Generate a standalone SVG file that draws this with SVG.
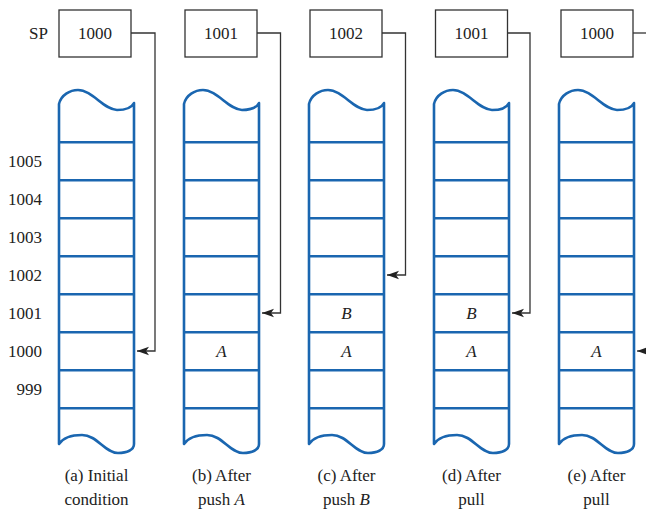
<svg xmlns="http://www.w3.org/2000/svg" width="646" height="509" viewBox="0 0 646 509">
<defs>
<path id="shape" d="M75,103 L75,444 C75,450 68,453 59,453 C46,453 38,435 23,435 C13,435 4,438 0,444 L0,104 C2,95 11,90 19,90 C33,90 45,110 58,110 C67,110 73,107 75,103 Z"/>
<g id="rows">
<line x1="0" y1="142.3" x2="75" y2="142.3"/>
<line x1="0" y1="180.3" x2="75" y2="180.3"/>
<line x1="0" y1="218.3" x2="75" y2="218.3"/>
<line x1="0" y1="256.3" x2="75" y2="256.3"/>
<line x1="0" y1="294.3" x2="75" y2="294.3"/>
<line x1="0" y1="332.3" x2="75" y2="332.3"/>
<line x1="0" y1="370.3" x2="75" y2="370.3"/>
<line x1="0" y1="408.3" x2="75" y2="408.3"/>
</g>
<g id="stack">
<use href="#shape" fill="#fff" stroke="#1a66b0" stroke-width="2.6" stroke-linejoin="round"/>
<use href="#rows" stroke="#1a66b0" stroke-width="2.6"/>
</g>
<marker id="ah" viewBox="0 0 12 10" refX="12" refY="5" markerWidth="12" markerHeight="10" markerUnits="userSpaceOnUse" orient="auto">
<path d="M12,5 L0,0.8 L3,5 L0,9.2 Z" fill="#222"/>
</marker>
</defs>
<rect width="646" height="509" fill="#fff"/>

<g id="labels" fill="#222">
<text x="48" y="39" text-anchor="end" font-family="Liberation Serif" font-size="17">SP</text>
<text x="42" y="167" text-anchor="end" font-family="Liberation Serif" font-size="17">1005</text>
<text x="42" y="205" text-anchor="end" font-family="Liberation Serif" font-size="17">1004</text>
<text x="42" y="243" text-anchor="end" font-family="Liberation Serif" font-size="17">1003</text>
<text x="42" y="281" text-anchor="end" font-family="Liberation Serif" font-size="17">1002</text>
<text x="42" y="319" text-anchor="end" font-family="Liberation Serif" font-size="17">1001</text>
<text x="42" y="357" text-anchor="end" font-family="Liberation Serif" font-size="17">1000</text>
<text x="42" y="395" text-anchor="end" font-family="Liberation Serif" font-size="17">999</text>
</g>

<g id="stack-a" fill="#222">
<use href="#stack" x="59"/>
<rect x="59" y="10" width="72" height="47" fill="#fff" stroke="#333" stroke-width="1.3"/>
<text x="95" y="39" text-anchor="middle" font-family="Liberation Serif" font-size="17">1000</text>
<text x="96.5" y="481" text-anchor="middle" font-family="Liberation Serif" font-size="17">(a) Initial</text>
<text x="96.5" y="505" text-anchor="middle" font-family="Liberation Serif" font-size="17">condition</text>
</g>

<g id="stack-b" fill="#222">
<use href="#stack" x="184"/>
<rect x="185" y="10" width="72" height="47" fill="#fff" stroke="#333" stroke-width="1.3"/>
<text x="221" y="39" text-anchor="middle" font-family="Liberation Serif" font-size="17">1001</text>
<text x="221.5" y="357" text-anchor="middle" font-family="Liberation Serif" font-size="17" font-style="italic">A</text>
<text x="221.5" y="481" text-anchor="middle" font-family="Liberation Serif" font-size="17">(b) After</text>
<text x="221.5" y="505" text-anchor="middle" font-family="Liberation Serif" font-size="17">push <tspan font-style="italic">A</tspan></text>
</g>

<g id="stack-c" fill="#222">
<use href="#stack" x="309"/>
<rect x="310" y="10" width="72" height="47" fill="#fff" stroke="#333" stroke-width="1.3"/>
<text x="346" y="39" text-anchor="middle" font-family="Liberation Serif" font-size="17">1002</text>
<text x="346.5" y="319" text-anchor="middle" font-family="Liberation Serif" font-size="17" font-style="italic">B</text>
<text x="346.5" y="357" text-anchor="middle" font-family="Liberation Serif" font-size="17" font-style="italic">A</text>
<text x="346.5" y="481" text-anchor="middle" font-family="Liberation Serif" font-size="17">(c) After</text>
<text x="346.5" y="505" text-anchor="middle" font-family="Liberation Serif" font-size="17">push <tspan font-style="italic">B</tspan></text>
</g>

<g id="stack-d" fill="#222">
<use href="#stack" x="434"/>
<rect x="435.5" y="10" width="72" height="47" fill="#fff" stroke="#333" stroke-width="1.3"/>
<text x="471.5" y="39" text-anchor="middle" font-family="Liberation Serif" font-size="17">1001</text>
<text x="471.5" y="319" text-anchor="middle" font-family="Liberation Serif" font-size="17" font-style="italic">B</text>
<text x="471.5" y="357" text-anchor="middle" font-family="Liberation Serif" font-size="17" font-style="italic">A</text>
<text x="471.5" y="481" text-anchor="middle" font-family="Liberation Serif" font-size="17">(d) After</text>
<text x="471.5" y="505" text-anchor="middle" font-family="Liberation Serif" font-size="17">pull</text>
</g>

<g id="stack-e" fill="#222">
<use href="#stack" x="559"/>
<rect x="561" y="10" width="72" height="47" fill="#fff" stroke="#333" stroke-width="1.3"/>
<text x="597" y="39" text-anchor="middle" font-family="Liberation Serif" font-size="17">1000</text>
<text x="596.5" y="357" text-anchor="middle" font-family="Liberation Serif" font-size="17" font-style="italic">A</text>
<text x="596.5" y="481" text-anchor="middle" font-family="Liberation Serif" font-size="17">(e) After</text>
<text x="596.5" y="505" text-anchor="middle" font-family="Liberation Serif" font-size="17">pull</text>
</g>

<g id="connectors" fill="none" stroke="#333" stroke-width="1.3">
<path d="M131,33 H155 V351 H137" marker-end="url(#ah)"/>
<path d="M257,33 H280.5 V313 H262" marker-end="url(#ah)"/>
<path d="M382,33 H405.5 V275 H387" marker-end="url(#ah)"/>
<path d="M507.5,33 H530 V313 H512" marker-end="url(#ah)"/>
<path d="M633,33 H646"/>
<path d="M650,351 H637" marker-end="url(#ah)"/>
</g>
</svg>
